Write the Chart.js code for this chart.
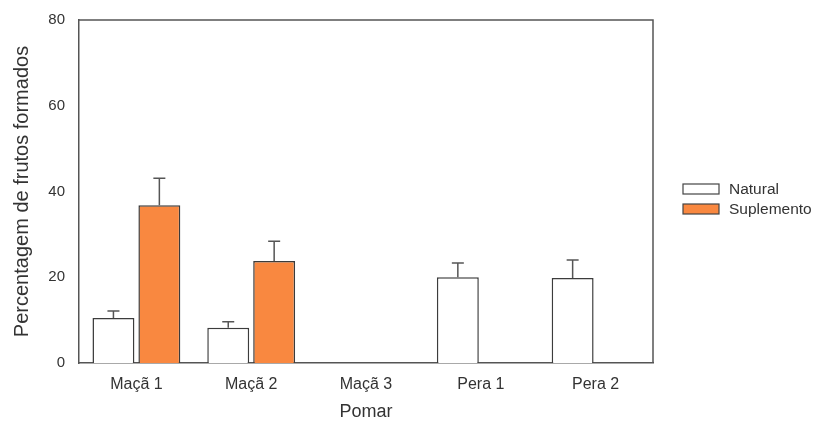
<!DOCTYPE html>
<html>
<head>
<meta charset="utf-8">
<script src="https://cdn.jsdelivr.net/npm/chart.js@4"></script>
<style>
  html, body { margin: 0; padding: 0; background: #fff; }
  #wrap { width: 823px; height: 427px; position: relative; }
</style>
</head>
<body>
<div id="wrap"><canvas id="c"></canvas></div>
<script>
// Orchards and fruit-set percentages (mean, with upper standard error)
const categories = ['Maçã 1', 'Maçã 2', 'Maçã 3', 'Pera 1', 'Pera 2'];
const naturalValues = [10.5, 8.2, null, 20.0, 19.8];
const naturalErrors = [1.6, 1.4, null, 3.3, 4.2];
const suplementoValues = [36.8, 23.8, null, null, null];
const suplementoErrors = [6.3, 4.6, null, null, null];
const yTicks = [0, 20, 40, 60, 80];

const AXIS = '#555555';
const FONT = '"Liberation Sans", Arial, sans-serif';

// Upper error whiskers with a small cap, drawn over each bar
const errorBars = {
  id: 'errorBars',
  afterDatasetsDraw(chart) {
    const { ctx } = chart;
    const y = chart.scales.y;
    chart.data.datasets.forEach((ds, di) => {
      const meta = chart.getDatasetMeta(di);
      meta.data.forEach((bar, i) => {
        const v = ds.data[i], e = ds.errors[i];
        if (v == null || e == null) return;
        const top = y.getPixelForValue(v + e);
        const base = y.getPixelForValue(v);
        ctx.save();
        ctx.strokeStyle = AXIS;
        ctx.lineWidth = 1.5;
        ctx.beginPath();
        ctx.moveTo(bar.x, base);
        ctx.lineTo(bar.x, top);
        ctx.moveTo(bar.x - 6, top);
        ctx.lineTo(bar.x + 6, top);
        ctx.stroke();
        ctx.restore();
      });
    });
  }
};

// Box frame around the plot area (top and right edges)
const frame = {
  id: 'frame',
  afterDraw(chart) {
    const { ctx, chartArea: a } = chart;
    ctx.save();
    ctx.strokeStyle = AXIS;
    ctx.lineWidth = 1.5;
    ctx.beginPath();
    ctx.moveTo(a.left, a.top);
    ctx.lineTo(a.right, a.top);
    ctx.lineTo(a.right, a.bottom);
    ctx.stroke();
    ctx.restore();
  }
};

// Legend beside the plot, built from the dataset labels and colours
const sideLegend = {
  id: 'sideLegend',
  afterDraw(chart) {
    const { ctx } = chart;
    const x0 = 683, y0 = 184, w = 36, h = 10, gap = 20;
    ctx.save();
    ctx.font = '15.5px ' + FONT;
    ctx.textBaseline = 'middle';
    chart.data.datasets.forEach((ds, i) => {
      const yy = y0 + i * gap;
      ctx.fillStyle = ds.backgroundColor;
      ctx.fillRect(x0, yy, w, h);
      ctx.strokeStyle = '#444';
      ctx.lineWidth = 1.2;
      ctx.strokeRect(x0, yy, w, h);
      ctx.fillStyle = '#333';
      ctx.fillText(ds.label, x0 + 46, yy + h / 2 + 1);
    });
    ctx.restore();
  }
};

new Chart(document.getElementById('c'), {
  type: 'bar',
  data: {
    labels: categories,
    datasets: [
      { label: 'Natural', data: naturalValues, errors: naturalErrors,
        backgroundColor: '#ffffff', borderColor: '#3c3c3c', borderWidth: 1.5 },
      { label: 'Suplemento', data: suplementoValues, errors: suplementoErrors,
        backgroundColor: '#F98840', borderColor: '#3c3c3c', borderWidth: 1.5 }
    ]
  },
  options: {
    responsive: true,
    maintainAspectRatio: false,
    animation: false,
    layout: { padding: { top: 20, right: 170, left: 0, bottom: 0 } },
    plugins: { legend: { display: false }, tooltip: { enabled: false } },
    datasets: { bar: { categoryPercentage: 0.80, barPercentage: 0.913 } },
    scales: {
      x: {
        grid: { display: false, drawTicks: true, tickLength: 5, color: AXIS },
        border: { color: AXIS, width: 1.5 },
        ticks: { color: '#333', font: { family: FONT, size: 16 }, padding: 7 },
        title: { display: true, text: 'Pomar', color: '#333',
                 font: { family: FONT, size: 18 }, padding: { top: 12 } },
        afterFit(s) { s.height = 64; }
      },
      y: {
        min: 0, max: 80,
        afterBuildTicks(s) { s.ticks = yTicks.map(v => ({ value: v })); },
        grid: { display: false, drawTicks: true, tickLength: 5, color: AXIS },
        border: { color: AXIS, width: 1.5 },
        ticks: { color: '#333', font: { family: FONT, size: 15 }, padding: 9 },
        title: { display: true, text: 'Percentagem de frutos formados', color: '#333',
                 font: { family: FONT, size: 20 }, padding: { top: 10, bottom: 6 } },
        afterFit(s) { s.width = 79; }
      }
    }
  },
  plugins: [errorBars, frame, sideLegend]
});
</script>
</body>
</html>
